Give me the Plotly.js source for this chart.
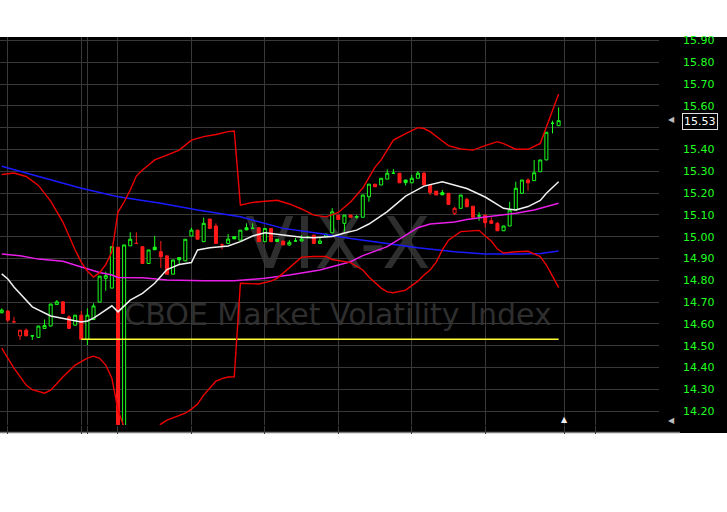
<!DOCTYPE html>
<html><head><meta charset="utf-8">
<script src="https://cdn.plot.ly/plotly-3.0.1.min.js"></script>
<style>html,body{margin:0;padding:0;background:#fff}#chart{width:727px;height:512px}</style>
</head><body><div id="chart"></div>
<script>
// ---- candle data (index = bar number) ----
const openP = [14.651,14.659,14.609,14.545,14.571,14.545,14.538,14.579,14.590,14.689,
14.701,14.632,14.594,14.640,14.529,14.620,14.700,14.809,14.764,14.952,
13.800,14.958,14.969,14.954,14.877,14.952,14.931,14.912,14.828,14.904,
14.889,15.003,15.030,14.977,15.081,15.049,14.962,14.969,15.000,14.984,
15.041,15.038,15.041,14.977,15.038,14.988,14.980,14.962,14.980,14.980,
14.997,15.007,14.969,15.000,15.018,15.099,15.061,15.099,15.091,15.089,
15.183,15.241,15.237,15.264,15.291,15.291,15.260,15.247,15.268,15.291,
15.237,15.209,15.202,15.199,15.107,15.130,15.171,15.140,15.095,15.099,
15.073,15.061,15.027,15.049,15.122,15.199,15.260,15.257,15.298,15.352,
15.520,15.509];
const highP = [14.671,14.662,14.632,14.571,14.579,14.547,14.590,14.620,14.691,14.709,
14.703,14.640,14.640,14.659,14.671,14.694,14.819,14.839,14.954,14.952,
14.962,15.020,15.020,14.956,14.939,15.003,14.980,14.912,14.893,14.904,
14.988,15.041,15.030,15.087,15.081,15.061,14.969,15.012,15.000,15.030,
15.061,15.061,15.041,15.038,15.038,14.988,14.980,14.984,14.994,15.007,
15.003,15.007,14.994,15.012,15.131,15.099,15.099,15.099,15.099,15.191,
15.241,15.241,15.268,15.309,15.310,15.291,15.260,15.283,15.301,15.298,
15.237,15.209,15.214,15.199,15.137,15.191,15.179,15.140,15.112,15.099,
15.089,15.068,15.049,15.160,15.252,15.260,15.268,15.352,15.352,15.479,
15.532,15.593];
const lowP = [14.648,14.607,14.607,14.526,14.545,14.526,14.536,14.579,14.588,14.689,
14.648,14.579,14.592,14.529,14.503,14.620,14.700,14.752,14.764,13.800,
13.800,14.958,14.969,14.877,14.875,14.940,14.857,14.828,14.828,14.870,
14.889,15.003,14.988,14.977,15.038,14.969,14.942,14.969,14.990,14.984,
15.031,15.038,14.977,14.977,14.977,14.978,14.962,14.958,14.980,14.980,
14.992,14.969,14.969,15.000,15.018,15.079,15.023,15.089,15.083,15.089,
15.160,15.229,15.237,15.264,15.291,15.247,15.235,15.247,15.268,15.237,
15.191,15.191,15.192,15.148,15.099,15.130,15.137,15.089,15.073,15.041,
15.061,15.027,15.027,15.049,15.122,15.199,15.211,15.257,15.298,15.352,
15.474,15.509];
const closeP = [14.663,14.617,14.609,14.571,14.545,14.545,14.590,14.592,14.691,14.701,
14.648,14.579,14.640,14.529,14.640,14.682,14.819,14.821,14.954,13.800,
14.962,14.988,14.969,14.877,14.939,14.940,14.908,14.828,14.893,14.894,
14.988,15.030,14.988,15.061,15.038,14.969,14.962,14.989,14.990,15.030,
15.031,15.038,14.977,15.038,14.977,14.978,14.962,14.974,14.980,14.989,
14.997,14.969,14.980,15.012,15.114,15.079,15.099,15.089,15.091,15.191,
15.241,15.229,15.268,15.291,15.291,15.247,15.248,15.268,15.291,15.237,
15.203,15.191,15.192,15.148,15.130,15.191,15.137,15.089,15.095,15.064,
15.061,15.027,15.049,15.122,15.222,15.260,15.247,15.293,15.352,15.479,
15.520,15.532];

// ---- indicator lines (bar index, value) ----
const upperIdx = [0,2,4,6,8,10,12,13,14,15,16,17,18,19,20,21,22,23,24,25,27,29,31,33,35,37,38,
39,41,43,45,47,49,51,53,55,57,59,60,61,62,63,64,66,68,69,70,72,73,75,77,79,81,82,84,86,88,89,90,91];
const upperBand = [15.285,15.292,15.276,15.235,15.163,15.067,14.939,14.883,14.842,14.815,14.835,14.872,14.930,15.113,15.159,15.214,15.278,15.306,15.329,15.352,15.374,15.397,15.443,15.459,15.469,15.482,15.485,
15.145,15.157,15.161,15.167,15.150,15.127,15.099,15.091,15.111,15.159,15.223,15.274,15.319,15.352,15.397,15.443,15.473,15.500,15.496,15.482,15.439,15.418,15.402,15.397,15.418,15.436,15.427,15.401,15.401,15.428,15.503,15.581,15.654];
const lowerIdx = [0,2,4,5,7,8,10,12,14,15,16,17,18,19,20,21,22,23,24,25,26,27,29,30,31,32,33,34,35,36,37,38,
39,42,44,45,46,47,48,49,51,53,54,57,59,60,62,63,64,66,68,69,70,71,72,73,75,77,78,79,80,81,82,84,86,88,89,90,91];
const lowerBand = [14.489,14.397,14.319,14.298,14.282,14.296,14.356,14.411,14.443,14.452,14.442,14.411,14.351,14.204,14.125,14.060,14.030,14.030,14.060,14.100,14.140,14.158,14.177,14.190,14.209,14.232,14.273,14.305,14.337,14.349,14.356,14.357,
14.786,14.783,14.796,14.809,14.833,14.856,14.879,14.906,14.909,14.909,14.895,14.881,14.847,14.815,14.764,14.747,14.743,14.755,14.796,14.824,14.847,14.883,14.939,14.984,15.023,15.029,15.029,15.003,14.980,14.943,14.925,14.931,14.933,14.909,14.870,14.819,14.766];
const whiteIdx = [0,1,2,3,5,8,11,13,14,15,16,18,19,21,23,25,27,29,31,32,34,37,39,41,43,46,49,51,54,56,58,60,63,66,69,72,74,76,79,82,84,86,88,89,91];
const whiteMA = [14.829,14.806,14.769,14.740,14.678,14.636,14.620,14.609,14.613,14.626,14.645,14.683,14.655,14.709,14.740,14.786,14.849,14.872,14.881,14.939,14.949,14.957,14.977,15.003,15.018,15.007,14.997,14.995,15.001,15.017,15.030,15.058,15.115,15.186,15.232,15.252,15.237,15.221,15.182,15.130,15.122,15.138,15.166,15.199,15.252];
const magIdx = [0,3,6,10,13,16,18,19,23,27,33,38,43,47,52,54,57,59,63,68,70,74,76,79,84,87,91];
const magMA = [14.920,14.912,14.897,14.887,14.861,14.836,14.824,14.813,14.811,14.801,14.798,14.798,14.809,14.824,14.847,14.862,14.885,14.913,14.954,15.041,15.058,15.067,15.079,15.090,15.107,15.122,15.153];
const blueIdx = [0,6,13,19,26,32,39,46,52,57,63,68,74,79,85,88,91];
const blueMA = [15.323,15.275,15.222,15.183,15.153,15.122,15.091,15.038,15.015,14.992,14.969,14.949,14.931,14.920,14.920,14.923,14.934];
const supportFrom = 13, supportTo = 91, supportLevel = 14.529;

// ---- labels ----
const yTicks = [14.2,14.3,14.4,14.5,14.6,14.7,14.8,14.9,15.0,15.1,15.2,15.3,15.4,15.5,15.6,15.7,15.8,15.9];
const hiddenTick = 15.5;
const lastPrice = 15.53;
const gridBars = [1,13,14,19,31,43,55,67,79,92,97];
const symbolText = 'VIX-X';
const nameText = 'CBOE Market Volatility Index';

// ---- split candles: colour by close vs previous close ----
const idx = closeP.map((_, i) => i);
function pick(arr, keep) { return arr.filter((_, i) => keep[i]); }
const isUp = closeP.map((c, i) => i === 0 || c >= closeP[i - 1]);
const isDown = isUp.map(v => !v);
const GREEN = '#1cff1c', RED = '#ff1a1a';
function candleTrace(keep, col) {
  return {
    type: 'candlestick', x: pick(idx, keep),
    open: pick(openP, keep), high: pick(highP, keep), low: pick(lowP, keep), close: pick(closeP, keep),
    increasing: {line: {color: col, width: 1}, fillcolor: '#000000'},
    decreasing: {line: {color: col, width: 1}, fillcolor: col},
    whiskerwidth: 0, hoverinfo: 'skip', showlegend: false
  };
}
function lineTrace(x, y, col, w) {
  return {type: 'scatter', mode: 'lines', x: x, y: y, line: {color: col, width: w}, hoverinfo: 'skip', showlegend: false};
}
const traces = [
  candleTrace(isUp, GREEN),
  candleTrace(isDown, RED),
  lineTrace(blueIdx, blueMA, '#1a1aff', 1.5),
  lineTrace(magIdx, magMA, '#e81ee8', 1.5),
  lineTrace([supportFrom, supportTo], [supportLevel, supportLevel], '#ffff33', 1.5),
  lineTrace(upperIdx, upperBand, '#ee0000', 1.4),
  lineTrace(lowerIdx, lowerBand, '#ee0000', 1.4),
  lineTrace(whiteIdx, whiteMA, '#f0f0f0', 1.5)
];

const W = 727, H = 512, ML = 0, MR = 68, MT = 37, MB = 87;
const PW = W - ML - MR, PH = H - MT - MB;
const px = x => (x - ML) / PW;             // pixel -> paper x
const py = y => (H - MB - y) / PH;         // pixel -> paper y

const layout = {
  width: W, height: H, autosize: false,
  margin: {l: ML, r: MR, t: MT, b: MB, pad: 0},
  paper_bgcolor: '#ffffff', plot_bgcolor: '#000000',
  hovermode: false, showlegend: false,
  xaxis: {
    range: [-0.28, 107.4], tickvals: gridBars, showticklabels: false,
    showgrid: true, gridcolor: '#383838', gridwidth: 1,
    ticks: 'outside', ticklen: 8, tickcolor: '#3a3a3a', tickwidth: 1,
    zeroline: false, showline: false, fixedrange: true,
    rangeslider: {visible: false}
  },
  yaxis: {
    side: 'right', range: [14.136, 15.916], tickvals: yTicks,
    ticktext: yTicks.map(v => Math.abs(v - hiddenTick) < 1e-9 ? '' : v.toFixed(2)),
    showgrid: true, gridcolor: '#383838', gridwidth: 1,
    ticks: '', ticklabelstandoff: 23, zeroline: false, showline: false, fixedrange: true,
    tickfont: {family: 'DejaVu Sans', size: 11, color: '#22ff22'}
  },
  shapes: [
    {type: 'rect', xref: 'paper', yref: 'paper', x0: 0, x1: px(727), y0: py(433), y1: 1,
     fillcolor: '#000000', line: {width: 0}, layer: 'below'},
    {type: 'line', xref: 'paper', yref: 'paper', x0: 0, x1: px(680), y0: py(432.5), y1: py(432.5),
     line: {color: '#7a7a7a', width: 1.5}, layer: 'below'},
    {type: 'rect', xref: 'paper', yref: 'paper', x0: px(240), x1: px(436), y0: py(264), y1: py(212),
     fillcolor: 'rgba(0,0,0,0)', line: {width: 0}, layer: 'below',
     label: {text: symbolText, textposition: 'middle center',
             font: {family: 'DejaVu Sans', size: 71, color: '#2e2e2e'}}},
    {type: 'rect', xref: 'paper', yref: 'paper', x0: px(120), x1: px(556), y0: py(326), y1: py(298),
     fillcolor: 'rgba(0,0,0,0)', line: {width: 0}, layer: 'below',
     label: {text: nameText, textposition: 'middle center',
             font: {family: 'DejaVu Sans', size: 30, color: '#2e2e2e'}}}
  ],
  annotations: [
    {xref: 'paper', yref: 'y', x: 1, y: lastPrice, xanchor: 'left', yanchor: 'middle', xshift: 23,
     text: lastPrice.toFixed(2), showarrow: false,
     font: {family: 'DejaVu Sans', size: 11, color: '#ffffff'},
     bgcolor: '#000000', bordercolor: '#e0e0e0', borderwidth: 1, borderpad: 1},
    {xref: 'paper', yref: 'paper', x: px(676.5), y: py(113), text: '◀', showarrow: false,
     font: {family: 'DejaVu Sans', size: 8, color: '#bbbbbb'}},
    {xref: 'paper', yref: 'paper', x: px(676.5), y: py(427), text: '◀', showarrow: false,
     font: {family: 'DejaVu Sans', size: 8, color: '#bbbbbb'}},
    {xref: 'paper', yref: 'paper', x: px(570), y: py(425.5), text: '▲', showarrow: false,
     font: {family: 'DejaVu Sans', size: 8, color: '#eeeeee'}}
  ]
};

Plotly.newPlot('chart', traces, layout, {staticPlot: true, displayModeBar: false});
</script>
</body></html>
